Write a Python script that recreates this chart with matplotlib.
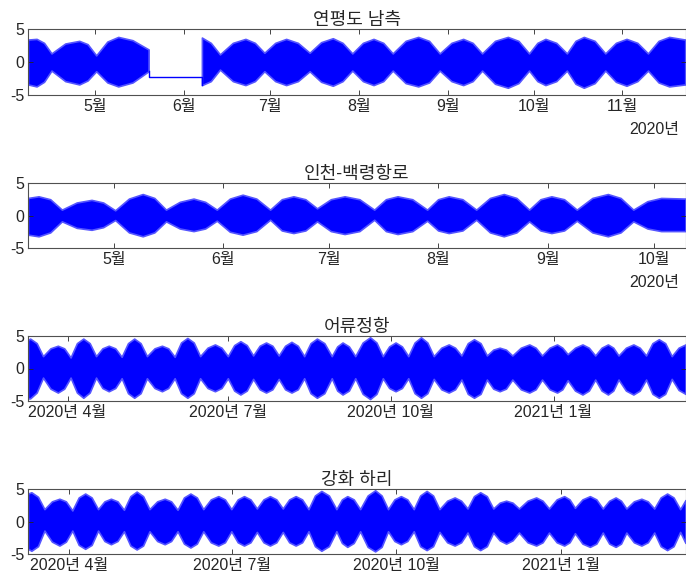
import numpy as np
import pandas as pd
import matplotlib
matplotlib.use("Agg")
import matplotlib.pyplot as plt
import matplotlib.dates as mdates
from matplotlib.ticker import FuncFormatter

plt.rcParams['font.family'] = ['Liberation Sans', 'Noto Sans CJK KR']

# ---------------- data (envelope of tidal signal) ----------------
# days are counted from 2020-04-01
ORIGIN = "2020-04-01"

titles = ["연평도 남측", "인천-백령항로", "어류정항", "강화 하리"]

# Panel 1 : 연평도 남측 (data gap between segments)
p1a_days = [6.5, 9.5, 12.1, 14.7, 19.5, 24.4, 27.3, 30.3, 34.2, 38.0, 43.0, 48.6]
p1a_up = [3.4, 3.5, 2.9, 1.3, 2.8, 3.2, 2.7, 1.0, 3.1, 3.8, 3.3, 1.9]
p1a_lo = [-3.4, -3.7, -3.0, -1.3, -2.9, -3.4, -2.8, -1.4, -3.1, -3.7, -3.1, -1.4]

p1_gap_days = [48.6, 48.6, 67.2, 67.2]
p1_gap_val = [-1.4, -2.33, -2.33, -3.5]

p1b_days = [67.2, 70.3, 73.5, 78.0, 82.4, 85.7, 89.0, 92.8, 96.6, 100.7, 104.8, 108.8,
            112.9, 116.3, 119.7, 123.4, 127.1, 130.5, 133.8, 138.3, 142.7, 146.5, 150.2,
            154.3, 158.4, 161.7, 165.0, 169.5, 174.0, 177.7, 181.4, 184.3, 187.1, 190.9,
            194.6, 197.6, 200.5, 204.3, 208.0, 211.7, 215.4, 219.2, 222.9, 226.6, 230.3,
            235.9]
p1b_up = [3.7, 2.9, 1.15, 2.9, 3.5, 2.9, 1.4, 2.9, 3.5, 2.9, 1.4, 3.0,
          3.6, 2.9, 1.3, 2.9, 3.5, 2.9, 1.3, 3.2, 3.8, 3.2, 1.3,
          2.9, 3.5, 2.9, 1.3, 3.2, 3.8, 3.2, 1.3, 2.9, 3.5, 2.9,
          1.3, 3.2, 3.8, 3.2, 1.3, 2.9, 3.5, 2.9, 1.3, 3.2, 3.8,
          3.4]
p1b_lo = [-3.5, -2.9, -1.15, -2.9, -3.5, -2.9, -1.4, -2.9, -3.5, -2.9, -1.4, -3.0,
          -3.6, -2.9, -1.3, -2.9, -3.5, -2.9, -1.3, -3.2, -3.7, -3.1, -1.3,
          -2.9, -3.5, -2.9, -1.3, -3.3, -3.9, -3.2, -1.3, -2.9, -3.5, -2.9,
          -1.3, -3.3, -3.9, -3.2, -1.3, -3.0, -3.6, -2.9, -1.3, -3.1, -3.7,
          -3.4]
p1_xlim = [6.5, 236.0]

# Panel 2 : 인천-백령항로
p2_days = [5.7, 8.7, 12.0, 15.3, 19.5, 23.7, 27.0, 30.4, 34.3, 38.2, 41.5, 44.8, 48.7,
           52.6, 55.9, 59.2, 62.9, 66.5, 70.4, 74.3, 77.6, 80.9, 84.3, 87.6, 91.5, 95.4,
           99.6, 103.8, 107.1, 110.4, 114.6, 118.8, 121.9, 124.9, 128.8, 132.7, 136.6,
           140.5, 144.1, 147.7, 150.9, 154.0, 157.6, 161.2, 165.6, 170.0, 173.6, 177.2,
           181.2, 185.1, 192.0]
p2_up = [2.7, 2.95, 2.5, 0.9, 2.0, 2.4, 2.0, 0.8, 2.6, 3.3, 2.7, 0.9, 2.1,
         2.6, 2.1, 0.9, 2.6, 3.2, 2.6, 0.9, 2.5, 2.95, 2.5, 1.1, 2.5, 2.95,
         2.5, 0.9, 2.5, 2.95, 2.5, 0.9, 2.5, 2.95, 2.5, 0.9, 2.7,
         3.3, 2.7, 0.9, 2.5, 2.95, 2.5, 0.9, 2.7, 3.3, 2.7, 0.9,
         2.2, 2.7, 2.6]
p2_lo = [-2.95, -3.2, -2.6, -0.9, -1.9, -2.2, -1.8, -0.7, -2.6, -3.2, -2.6, -0.9, -2.0,
         -2.4, -2.0, -0.8, -2.5, -2.95, -2.4, -0.65, -2.3, -2.7, -2.3, -0.9, -2.4, -2.85,
         -2.4, -0.65, -2.4, -2.85, -2.4, -0.8, -2.3, -2.7, -2.3, -0.65, -2.6,
         -3.2, -2.6, -0.9, -2.3, -2.7, -2.3, -0.8, -2.6, -3.2, -2.6, -0.9,
         -2.0, -2.4, -2.4]
p2_xlim = [5.7, 192.0]

# Panel 3 : 어류정항
p3_days = [-22.4, -21.2, -17.5, -13.9, -9.7, -5.5, -1.9, 1.7, 5.3, 8.9, 12.5, 16.1,
           19.7, 23.3, 27.0, 30.6, 34.2, 37.7, 41.3, 44.9, 49.2, 53.4, 57.0, 60.6,
           64.2, 67.8, 71.4, 75.0, 79.2, 83.4, 87.1, 90.7, 94.3, 97.8, 101.4, 105.0,
           108.7, 112.3, 115.9, 119.5, 123.1, 126.7, 130.3, 133.9, 137.5, 141.1, 145.3,
           149.5, 152.6, 155.6, 159.2, 162.8, 167.0, 171.2, 174.8, 178.4, 182.0, 185.6,
           189.2, 192.8, 196.4, 200.0, 203.6, 207.2, 211.5, 215.7, 219.3, 222.9, 226.5,
           230.0, 233.7, 237.3, 240.9, 244.5, 248.1, 251.7, 256.5, 261.3, 264.9, 268.5,
           272.8, 277.0, 280.0, 283.0, 287.2, 291.4, 295.0, 298.6, 302.2, 305.8, 308.8,
           311.8, 316.0, 320.2, 323.8, 327.4, 331.0, 334.6, 338.2, 341.9, 345.8, 349.7]
p3_up = [4.4, 4.6, 3.9, 1.9, 3.1, 3.5, 3.1, 1.7, 3.9, 4.6, 3.9, 1.9,
         3.1, 3.5, 3.1, 1.8, 3.9, 4.6, 3.9, 1.9, 3.1, 3.5, 3.1, 1.8,
         4.0, 4.7, 4.0, 1.9, 3.2, 3.7, 3.2, 1.9, 3.6, 4.2, 3.6, 2.0,
         3.5, 4.0, 3.5, 2.0, 3.5, 4.1, 3.5, 1.9, 3.9, 4.6, 3.9,
         1.9, 3.4, 4.0, 3.4, 1.9, 4.0, 4.8, 4.0, 1.9, 3.4, 4.0,
         3.4, 1.9, 4.0, 4.8, 4.0, 1.9, 3.2, 3.7, 3.2, 2.0, 3.9,
         4.5, 3.9, 2.0, 2.9, 3.2, 2.9, 2.0, 3.2, 3.7, 3.2, 2.0,
         3.2, 3.7, 3.2, 2.2, 3.2, 3.7, 3.2, 2.0, 3.2, 3.7, 3.2,
         2.0, 3.2, 3.7, 3.2, 2.0, 3.9, 4.5, 3.9, 1.9, 3.2, 3.7]
p3_lo = [-4.6, -4.6, -3.7, -1.4, -3.1, -3.7, -3.1, -1.4, -3.7, -4.5, -3.7, -1.4,
         -3.0, -3.5, -3.0, -1.5, -3.8, -4.5, -3.8, -1.5, -3.0, -3.5, -3.0, -1.5,
         -3.8, -4.5, -3.8, -1.5, -3.0, -3.5, -3.0, -1.5, -3.4, -4.0, -3.4, -1.6,
         -3.2, -3.7, -3.2, -1.6, -3.2, -3.7, -3.2, -1.5, -3.8, -4.5, -3.8,
         -1.5, -3.4, -4.0, -3.4, -1.5, -3.9, -4.7, -3.9, -1.5, -3.0, -3.5,
         -3.0, -1.5, -3.8, -4.5, -3.8, -1.6, -3.2, -3.7, -3.2, -1.7, -3.9,
         -4.5, -3.9, -1.7, -3.1, -3.5, -3.1, -1.7, -3.2, -3.7, -3.2, -1.7,
         -3.2, -3.7, -3.2, -1.8, -3.4, -4.0, -3.4, -1.7, -3.4, -4.0, -3.4,
         -1.7, -3.4, -4.0, -3.4, -1.7, -3.9, -4.5, -3.9, -1.6, -3.3, -3.9]
p3_xlim = [-22.4, 349.7]

# Panel 4 : 강화 하리
p4_days = [-23.1, -21.2, -17.5, -13.9, -9.7, -5.5, -1.9, 1.7, 5.3, 8.9, 12.5, 16.1,
           19.7, 23.3, 27.0, 30.6, 34.2, 37.7, 41.3, 44.9, 49.2, 53.4, 57.0, 60.6,
           64.2, 67.8, 71.4, 75.0, 79.2, 83.4, 87.1, 90.7, 94.3, 97.8, 101.4, 105.0,
           108.7, 112.3, 115.9, 119.5, 123.1, 126.7, 130.3, 133.9, 137.5, 141.1, 145.3,
           149.5, 152.6, 155.6, 159.2, 162.8, 167.0, 171.2, 174.8, 178.4, 182.0, 185.6,
           189.2, 192.8, 196.4, 200.0, 203.6, 207.2, 211.5, 215.7, 219.3, 222.9, 226.5,
           230.0, 233.7, 237.3, 240.9, 244.5, 248.1, 251.7, 256.5, 261.3, 264.9, 268.5,
           272.8, 277.0, 280.0, 283.0, 287.2, 291.4, 295.0, 298.6, 302.2, 305.8, 308.8,
           311.8, 316.0, 320.2, 323.8, 327.4, 331.0, 334.6, 338.2, 341.9, 344.9]
p4_up = [4.3, 4.5, 3.8, 1.9, 3.1, 3.5, 3.1, 1.7, 3.7, 4.3, 3.7, 1.9,
         3.1, 3.5, 3.1, 1.8, 3.9, 4.6, 3.9, 1.9, 3.1, 3.5, 3.1, 1.8,
         3.7, 4.3, 3.7, 1.9, 3.4, 3.9, 3.4, 1.9, 3.4, 3.9, 3.4, 2.0,
         3.4, 3.9, 3.4, 2.0, 3.4, 3.9, 3.4, 1.9, 4.0, 4.7, 4.0,
         1.9, 3.4, 3.9, 3.4, 1.9, 4.0, 4.8, 4.0, 1.9, 3.4, 3.9,
         3.4, 1.9, 4.0, 4.7, 4.0, 1.9, 3.2, 3.7, 3.2, 2.0, 3.9,
         4.5, 3.9, 2.0, 2.9, 3.2, 2.9, 2.0, 3.2, 3.7, 3.2, 2.0,
         3.4, 3.9, 3.4, 2.1, 3.4, 3.9, 3.4, 2.0, 3.2, 3.7, 3.2,
         2.0, 3.1, 3.5, 3.1, 2.0, 3.7, 4.3, 3.7, 1.9, 3.3]
p4_lo = [-4.2, -4.5, -3.8, -1.4, -3.1, -3.7, -3.1, -1.4, -3.6, -4.2, -3.6, -1.4,
         -3.0, -3.5, -3.0, -1.5, -3.7, -4.3, -3.7, -1.5, -3.0, -3.5, -3.0, -1.5,
         -3.4, -4.0, -3.4, -1.5, -3.2, -3.7, -3.2, -1.5, -3.2, -3.7, -3.2, -1.6,
         -3.2, -3.7, -3.2, -1.6, -3.2, -3.7, -3.2, -1.5, -3.8, -4.5, -3.8,
         -1.5, -3.3, -3.9, -3.3, -1.5, -3.9, -4.6, -3.9, -1.5, -3.0, -3.5,
         -3.0, -1.5, -3.8, -4.4, -3.8, -1.6, -3.2, -3.7, -3.2, -1.7, -3.8,
         -4.4, -3.8, -1.7, -2.9, -3.4, -2.9, -1.7, -3.2, -3.7, -3.2, -1.7,
         -3.2, -3.7, -3.2, -1.8, -3.4, -3.9, -3.4, -1.7, -3.4, -3.9, -3.4,
         -1.7, -3.2, -3.7, -3.2, -1.7, -3.8, -4.4, -3.8, -1.6, -3.3]
p4_xlim = [-23.1, 344.9]

y_ticks = [-5, 0, 5]
year_label = "2020년"

# ---------------- helpers ----------------
def to_dates(days):
    return pd.Timestamp(ORIGIN) + pd.to_timedelta(np.asarray(days, dtype=float), unit="D")

TXT = "#262626"
BLUE = "#0000ff"
EDGE = "#5555ff"

W, H = 686, 580
fig = plt.figure(figsize=(W / 100, H / 100), dpi=100)

def rect(left, top, right, bottom):
    return [left / W, 1 - bottom / H, (right - left) / W, (bottom - top) / H]

rects = [rect(28, 29, 685.5, 95), rect(28, 183, 685.5, 248),
         rect(28, 336, 685.5, 401), rect(28, 489, 685.5, 554)]

def style(ax, title):
    ax.set_ylim(-5, 5)
    ax.set_yticks(y_ticks)
    ax.set_yticklabels([str(v) for v in y_ticks])
    ax.tick_params(direction="in", top=True, right=True, length=3.6, width=0.6,
                   color=TXT, labelcolor=TXT, labelsize=11.5, pad=3)
    ax.tick_params(axis="y", pad=2.5)
    for s in ax.spines.values():
        s.set_color("#505050")
        s.set_linewidth(0.8)
    ax.set_title(title, fontsize=13, color=TXT, pad=3)
    ax.set_facecolor("white")

def band(ax, days, lo, up):
    ax.fill_between(to_dates(days), lo, up, facecolor=BLUE, edgecolor=EDGE, lw=1.2)

month_fmt = FuncFormatter(lambda x, pos: f"{mdates.num2date(x).month}월")
ym_fmt = FuncFormatter(lambda x, pos: f"{mdates.num2date(x).year}년 {mdates.num2date(x).month}월")

# Panel 1
ax = fig.add_axes(rects[0])
band(ax, p1a_days, p1a_lo, p1a_up)
ax.plot(to_dates(p1_gap_days), p1_gap_val, color=BLUE, lw=1.0)
band(ax, p1b_days, p1b_lo, p1b_up)
ax.set_xlim(to_dates(p1_xlim))
ax.xaxis.set_major_locator(mdates.MonthLocator())
ax.xaxis.set_major_formatter(month_fmt)
style(ax, titles[0])
ax.text(0.991, -0.53, year_label, transform=ax.transAxes, ha="right", va="center",
        fontsize=11.5, color=TXT)

# Panel 2
ax = fig.add_axes(rects[1])
band(ax, p2_days, p2_lo, p2_up)
ax.set_xlim(to_dates(p2_xlim))
ax.xaxis.set_major_locator(mdates.MonthLocator())
ax.xaxis.set_major_formatter(month_fmt)
style(ax, titles[1])
ax.text(0.991, -0.53, year_label, transform=ax.transAxes, ha="right", va="center",
        fontsize=11.5, color=TXT)

# Panel 3
ax = fig.add_axes(rects[2])
band(ax, p3_days, p3_lo, p3_up)
ax.set_xlim(to_dates(p3_xlim))
ax.xaxis.set_major_locator(mdates.MonthLocator(bymonth=[1, 4, 7, 10]))
ax.xaxis.set_major_formatter(ym_fmt)
style(ax, titles[2])

# Panel 4
ax = fig.add_axes(rects[3])
band(ax, p4_days, p4_lo, p4_up)
ax.set_xlim(to_dates(p4_xlim))
ax.xaxis.set_major_locator(mdates.MonthLocator(bymonth=[1, 4, 7, 10]))
ax.xaxis.set_major_formatter(ym_fmt)
style(ax, titles[3])

fig.savefig("out.png", dpi=100, facecolor="white")
